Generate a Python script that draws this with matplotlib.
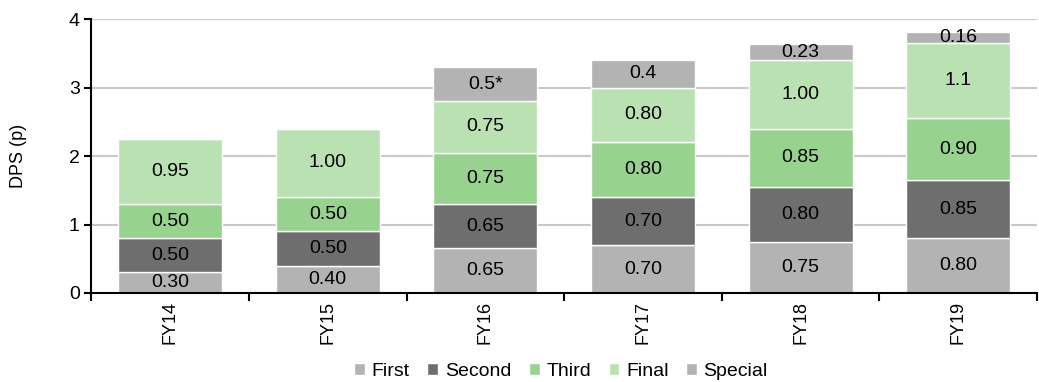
import matplotlib.pyplot as plt
import numpy as np

years = ['FY14', 'FY15', 'FY16', 'FY17', 'FY18', 'FY19']
first = [0.30, 0.40, 0.65, 0.70, 0.75, 0.80]
second = [0.50, 0.50, 0.65, 0.70, 0.80, 0.85]
third = [0.50, 0.50, 0.75, 0.80, 0.85, 0.90]
final = [0.95, 1.00, 0.75, 0.80, 1.00, 1.10]
special = [0.0, 0.0, 0.50, 0.40, 0.23, 0.16]

first_lbl = ['0.30', '0.40', '0.65', '0.70', '0.75', '0.80']
second_lbl = ['0.50', '0.50', '0.65', '0.70', '0.80', '0.85']
third_lbl = ['0.50', '0.50', '0.75', '0.80', '0.85', '0.90']
final_lbl = ['0.95', '1.00', '0.75', '0.80', '1.00', '1.1']
special_lbl = ['', '', '0.5*', '0.4', '0.23', '0.16']

series = [
    ('First', first, first_lbl, '#b3b3b3'),
    ('Second', second, second_lbl, '#6e6e6e'),
    ('Third', third, third_lbl, '#98d28f'),
    ('Final', final, final_lbl, '#b9e1b2'),
    ('Special', special, special_lbl, '#b3b3b3'),
]

plt.rcParams['font.family'] = ['Liberation Sans', 'DejaVu Sans']

fig = plt.figure(figsize=(10.39, 3.82), dpi=100)
ax = fig.add_axes([0.088, 0.233, 0.91, 0.717])

x = np.arange(len(years))
bottom = np.zeros(len(years))
for name, vals, lbls, col in series:
    vals = np.array(vals)
    bars = ax.bar(x, vals, 0.66, bottom=bottom, color=col, edgecolor='white',
                  linewidth=1, label=name, zorder=2)
    for rect, v, b, t in zip(bars, vals, bottom, lbls):
        if v > 0:
            ax.text(rect.get_x() + rect.get_width() / 2, b + v / 2, t,
                    ha='center', va='center', fontsize=14, zorder=3)
    bottom += vals

ax.set_ylim(0, 4)
ax.set_xlim(-0.5, len(years) - 0.5)
ax.set_yticks([0, 1, 2, 3, 4])
ax.tick_params(axis='y', labelsize=14, length=5, width=1.5, direction='out')
ax.yaxis.grid(True, color='#c8c8c8', linewidth=1.5, zorder=0)
ax.set_axisbelow(True)

ax.set_xticks(x)
ax.set_xticklabels(years, rotation=90, fontsize=13)
ax.tick_params(axis='x', length=0, pad=6)
ax.set_xticks(np.arange(-0.5, len(years), 1), minor=True)
ax.tick_params(axis='x', which='minor', length=6, width=1.5, direction='out')

for s in ['top', 'right']:
    ax.spines[s].set_visible(False)
ax.spines['left'].set_linewidth(1.5)
ax.spines['bottom'].set_linewidth(1.5)

ax.set_ylabel('DPS (p)', fontsize=13, labelpad=30)

fig.legend(loc='lower center', bbox_to_anchor=(0.54, -0.04), ncol=5, frameon=False,
           fontsize=14, handlelength=0.55, handleheight=0.55, handletextpad=0.35,
           columnspacing=0.9)

plt.savefig('out.png', dpi=100)
